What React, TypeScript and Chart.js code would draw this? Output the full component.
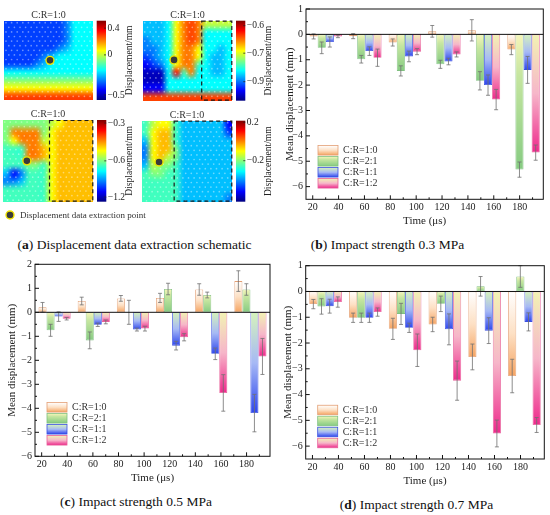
import React, { useEffect, useRef } from 'react';
import { Chart, registerables } from 'chart.js';

// Register all Chart.js components
Chart.register(...registerables);

const FONT = "'Liberation Serif', 'Times New Roman', serif";
Chart.defaults.font.family = FONT;
Chart.defaults.color = '#222';

// ---------- bar panels (b), (c), (d) ----------
const SERIES = ['C:R=1:0', 'C:R=2:1', 'C:R=1:1', 'C:R=1:2'];
const GROUPS = ['20-40', '50-70', '80-100', '110-130', '140-160', '170-190'];
const TIME_TICKS = [20, 40, 60, 80, 100, 120, 140, 160, 180];
const TIME_MIN = 14.8;
const TIME_MAX = 198.3;

// (b) 0.3 MPa
const B_10 = [-0.08, -0.07, -0.32, 0.12, 0.16, -0.6];
const B_21 = [-0.53, -0.98, -1.44, -1.18, -1.83, -5.33];
const B_11 = [-0.3, -0.66, -0.87, -1.07, -2.0, -1.4];
const B_12 = [-0.08, -0.92, -0.68, -0.79, -2.57, -4.66];
const B_10_ERR = [0.1, 0.1, 0.14, 0.23, 0.42, 0.2];
const B_21_ERR = [0.23, 0.15, 0.2, 0.16, 0.36, 0.3];
const B_11_ERR = [0.2, 0.17, 0.21, 0.13, 0.4, 0.53];
const B_12_ERR = [0.05, 0.34, 0.12, 0.1, 0.4, 0.3];

// (c) 0.5 MPa
const C_10 = [0.21, 0.47, 0.58, 0.6, 0.95, 1.3];
const C_21 = [-0.75, -1.17, 0.0, 0.97, 0.72, 0.95];
const C_11 = [-0.18, -0.52, -0.72, -1.39, -1.73, -4.2];
const C_12 = [-0.27, -0.4, -0.68, -1.04, -3.36, -1.84];
const C_10_ERR = [0.2, 0.16, 0.12, 0.19, 0.24, 0.43];
const C_21_ERR = [0.25, 0.35, 0.5, 0.24, 0.12, 0.24];
const C_11_ERR = [0.2, 0.07, 0.06, 0.18, 0.24, 0.78];
const C_12_ERR = [0.05, 0.08, 0.1, 0.15, 0.76, 0.75];

// (d) 0.7 MPa
const D_10 = [-0.49, -1.02, -1.45, -1.28, -2.54, -3.28];
const D_21 = [-0.58, -1.02, -0.87, -0.48, 0.2, 0.58];
const D_11 = [-0.57, -1.02, -1.41, -1.47, -1.52, -1.18];
const D_12 = [-0.41, -0.8, -2.28, -3.46, -5.51, -5.18];
const D_10_ERR = [0.18, 0.18, 0.41, 0.28, 0.5, 0.65];
const D_21_ERR = [0.3, 0.18, 0.41, 0.3, 0.38, 0.42];
const D_11_ERR = [0.27, 0.18, 0.18, 0.6, 0.5, 0.35];
const D_12_ERR = [0.2, 0.16, 0.63, 0.76, 0.52, 0.29];

const Y_TICKS_B = [1, 0, -1, -2, -3, -4, -5, -6];
const Y_TICKS_C = [2, 1, 0, -1, -2, -3, -4, -5, -6];
const Y_TICKS_D = [1, 0, -1, -2, -3, -4, -5, -6];

// gradient stops (light top -> saturated bottom) per series
const SERIES_FILL = [
  ['#ffffff', '#fde0c4', '#f5a462'],
  ['#f7f5b9', '#c6e6a0', '#86cb82'],
  ['#d6f3bb', '#a6b9f5', '#2e46ee'],
  ['#f2f3b3', '#f6b6c9', '#ee2a8c'],
];
const SERIES_MID = [0.5, 0.3, 0.5, 0.5];
const SERIES_EDGE = ['#e39f74', '#80c080', '#3a50e0', '#e8609a'];

// ---------- heat maps (a) ----------
// colour level per cell, 0 (dark blue) .. g = 16 (dark red) on the jet scale
const LEVEL_MAX = 16;
const MAP1 = [
  '333333334666',
  '333333334666',
  '333333334666',
  '333333345666',
  '333334566666',
  '333345666666',
  '666666666666',
  '888888888888',
  'aaaaaaaaaaaa',
  'dddddddddddd',
];
const MAP2 = [
  '5556acdc9999',
  '5556acdc6666',
  '4556acdc6666',
  '4456acca6656',
  '3456acca6556',
  '2346acc76556',
  '1116e7c66556',
  '111666666666',
  '222666666666',
  'dddddddddddd',
];
const MAP3 = [
  '8888889abbbb',
  '8cccc8abbbbb',
  '8accc9abbbbb',
  '777ccbabbbbb',
  '777ccbabbbbb',
  '777887abbbbb',
  '524777abbbbb',
  '445777abbbbb',
  '777777abbbbb',
  '777777abbbbb',
];
const MAP4 = [
  '79aa75555552',
  '7abb75555553',
  '5abb75555555',
  '4abb85555555',
  '4ab985555555',
  '598875555555',
  '788775555555',
  '777775555555',
  '777775555555',
  '777775555554',
];
const CB1_LEVELS = [14.5, 9.1, 1.0];
const CB1_LABELS = ['0.4', '0', '\u22120.5'];
const CB2_LEVELS = [15.0, 9.5, 3.8];
const CB2_LABELS = ['\u22120.6', '\u22120.7', '\u22120.9'];
const CB3_LEVELS = [15.4, 8.0, 0.9];
const CB3_LABELS = ['\u22120.3', '\u22120.6', '\u22121.2'];
const CB4_LEVELS = [15.7, 8.1];
const CB4_LABELS = ['0.2', '\u22120.2'];
// extraction point [column, row]
const POINT1 = [6.2, 5.0];
const POINT2 = [4.2, 4.9];
const POINT3 = [3.2, 5.0];
const POINT4 = [2.3, 5.1];

const fmt = (v: number) => (v < 0 ? '\u2212' + Math.abs(v) : String(v));

function jet(t: number): [number, number, number] {
  const c = (v: number) => Math.round(255 * Math.max(0, Math.min(1, v)));
  return [c(1.5 - Math.abs(4 * t - 3)), c(1.5 - Math.abs(4 * t - 2)), c(1.5 - Math.abs(4 * t - 1))];
}
const jetCss = (t: number) => {
  const [r, g, b] = jet(t);
  return `rgb(${r},${g},${b})`;
};

function fillGradient(ctx: CanvasRenderingContext2D, i: number, top: number, bottom: number) {
  const g = ctx.createLinearGradient(0, top, 0, bottom);
  g.addColorStop(0, SERIES_FILL[i][0]);
  g.addColorStop(SERIES_MID[i], SERIES_FILL[i][1]);
  g.addColorStop(1, SERIES_FILL[i][2]);
  return g;
}

function HeatPanel({ box, area, levels, cbLevels, cbLabels, point, dashFrom, note }: any) {
  const ref = useRef<HTMLCanvasElement>(null);

  useEffect(() => {
    const canvas = ref.current;
    if (!canvas) return;
    const rows = levels.length;
    const cols = levels[0].length;

    const heat = {
      id: 'heat',
      beforeDatasetsDraw(chart: any) {
        const { ctx, scales } = chart;
        const { x, y, cb } = scales;
        const x0 = x.getPixelForValue(0), x1 = x.getPixelForValue(cols);
        const y0 = y.getPixelForValue(0), y1 = y.getPixelForValue(rows);

        // the grid as a tiny bitmap, smoothed when stretched over the map
        const off = document.createElement('canvas');
        off.width = cols;
        off.height = rows;
        const octx = off.getContext('2d')!;
        const img = octx.createImageData(cols, rows);
        levels.forEach((row: string, r: number) => {
          for (let c = 0; c < cols; c++) {
            const [R, G, B] = jet(parseInt(row[c], 17) / LEVEL_MAX);
            const k = (r * cols + c) * 4;
            img.data[k] = R;
            img.data[k + 1] = G;
            img.data[k + 2] = B;
            img.data[k + 3] = 255;
          }
        });
        octx.putImageData(img, 0, 0);

        ctx.save();
        ctx.imageSmoothingEnabled = true;
        ctx.imageSmoothingQuality = 'high';
        ctx.drawImage(off, x0, y0, x1 - x0, y1 - y0);

        // speckle dots of the sample surface
        ctx.beginPath();
        ctx.rect(x0, y0, x1 - x0, y1 - y0);
        ctx.clip();
        ctx.fillStyle = 'rgba(255,255,255,0.42)';
        for (let j = 0, py = y0 + 2; py < y1; py += 4.6, j++) {
          for (let px = x0 + 2 + (j % 2) * 2.8; px < x1; px += 5.6) {
            ctx.beginPath();
            ctx.arc(px, py, 0.85, 0, Math.PI * 2);
            ctx.fill();
          }
        }
        ctx.restore();

        ctx.save();
        if (dashFrom != null) {
          const xd = x.getPixelForValue(dashFrom);
          ctx.strokeStyle = '#1a1a1a';
          ctx.lineWidth = 1.2;
          ctx.setLineDash([4, 3]);
          ctx.strokeRect(xd, y0 + 0.5, x1 - xd - 0.5, y1 - y0 - 1);
          ctx.setLineDash([]);
        }

        // extraction point
        ctx.beginPath();
        ctx.arc(x.getPixelForValue(point[0]), y.getPixelForValue(point[1]), 4, 0, Math.PI * 2);
        ctx.fillStyle = '#3a3a3a';
        ctx.fill();
        ctx.strokeStyle = '#f2e600';
        ctx.lineWidth = 1.4;
        ctx.stroke();

        // map title
        ctx.fillStyle = '#333';
        ctx.font = `10px ${FONT}`;
        ctx.textAlign = 'center';
        ctx.textBaseline = 'alphabetic';
        ctx.fillText('C:R=1:0', (x0 + x1) / 2, y0 - 3);

        // colour bar
        const cbL = x1 + 3.7, cbW = 9.3;
        const cTop = cb.getPixelForValue(LEVEL_MAX), cBot = cb.getPixelForValue(0);
        const g = ctx.createLinearGradient(0, cBot, 0, cTop);
        for (let k = 0; k <= 16; k++) g.addColorStop(k / 16, jetCss(k / 16));
        ctx.fillStyle = g;
        ctx.fillRect(cbL, cTop, cbW, cBot - cTop);
        ctx.strokeStyle = '#222';
        ctx.lineWidth = 0.8;
        ctx.font = `9.5px ${FONT}`;
        ctx.textAlign = 'left';
        ctx.textBaseline = 'middle';
        ctx.fillStyle = '#222';
        cbLevels.forEach((lv: number, i: number) => {
          const p = cb.getPixelForValue(lv);
          ctx.beginPath();
          ctx.moveTo(cbL + cbW - 2, p);
          ctx.lineTo(cbL + cbW, p);
          ctx.stroke();
          ctx.fillText(cbLabels[i], cbL + cbW + 1.5, p);
        });

        ctx.save();
        ctx.translate(x1 + 36.5, (cTop + cBot) / 2);
        ctx.rotate(-Math.PI / 2);
        ctx.textAlign = 'center';
        ctx.fillText('Displacement/mm', 0, 0);
        ctx.restore();

        if (note) {
          const px = x0 + 7.3, py = y1 + 13.3;
          ctx.beginPath();
          ctx.arc(px, py, 4, 0, Math.PI * 2);
          ctx.fillStyle = '#3a3a3a';
          ctx.fill();
          ctx.strokeStyle = '#f2e600';
          ctx.lineWidth = 1.4;
          ctx.stroke();
          ctx.fillStyle = '#333';
          ctx.font = `9px ${FONT}`;
          ctx.textAlign = 'left';
          ctx.fillText('Displacement data extraction point', px + 10, py + 0.5);
        }
        ctx.restore();
      },
    };

    const chart = new Chart(canvas, {
      type: 'scatter',
      data: { datasets: [] },
      options: {
        animation: false,
        responsive: false,
        events: [],
        layout: {
          padding: {
            left: area.left,
            top: area.top,
            right: box.width - area.right,
            bottom: box.height - area.bottom,
          },
        },
        plugins: { legend: { display: false }, tooltip: { enabled: false } },
        scales: {
          x: { type: 'linear', min: 0, max: cols, display: false },
          y: { type: 'linear', min: 0, max: rows, reverse: true, display: false },
          cb: { type: 'linear', axis: 'y', min: 0, max: LEVEL_MAX, display: false },
        },
      } as any,
      plugins: [heat],
    });

    return () => {
      chart.destroy();
    };
  }, []);

  return (
    <canvas
      ref={ref}
      width={box.width}
      height={box.height}
      style={{ position: 'absolute', left: box.left, top: box.top, width: box.width, height: box.height }}
    />
  );
}

function BarPanel({ box, area, yMin, yMax, yTicks, values, errors, yTitleX }: any) {
  const ref = useRef<HTMLCanvasElement>(null);

  useEffect(() => {
    const canvas = ref.current;
    if (!canvas) return;
    const axisH = box.height - area.bottom;
    const titleLH = 11 * 1.2;

    const extras = {
      id: 'barExtras',
      afterDatasetsDraw(chart: any) {
        const { ctx, chartArea: a, scales } = chart;
        const ys = scales.y, xs = scales.xt;
        const line = (x1: number, y1: number, x2: number, y2: number) => {
          ctx.beginPath();
          ctx.moveTo(x1, y1);
          ctx.lineTo(x2, y2);
          ctx.stroke();
        };
        ctx.save();

        // error bars
        ctx.strokeStyle = '#707070';
        ctx.lineWidth = 0.8;
        chart.data.datasets.forEach((ds: any, i: number) => {
          chart.getDatasetMeta(i).data.forEach((bar: any, j: number) => {
            const v = ds.data[j], e = errors[i][j];
            const pt = ys.getPixelForValue(v + e), pb = ys.getPixelForValue(v - e);
            line(bar.x, pt, bar.x, pb);
            line(bar.x - 2, pt, bar.x + 2, pt);
            line(bar.x - 2, pb, bar.x + 2, pb);
          });
        });

        // frame, zero line and inward ticks
        ctx.strokeStyle = '#111';
        ctx.lineWidth = 1;
        ctx.strokeRect(a.left, a.top, a.right - a.left, a.bottom - a.top);
        const z = ys.getPixelForValue(0);
        line(a.left, z, a.right, z);
        const yv = ys.ticks.map((t: any) => t.value);
        yv.forEach((v: number, k: number) => {
          const p = ys.getPixelForValue(v);
          line(a.left, p, a.left + 4, p);
          if (k < yv.length - 1) {
            const pm = ys.getPixelForValue((v + yv[k + 1]) / 2);
            line(a.left, pm, a.left + 2, pm);
          }
        });
        const xv = xs.ticks.map((t: any) => t.value);
        xv.forEach((v: number, k: number) => {
          const p = xs.getPixelForValue(v);
          line(p, a.bottom, p, a.bottom - 4);
          const next = k < xv.length - 1 ? (v + xv[k + 1]) / 2 : v + (v - xv[k - 1]) / 2;
          if (next < TIME_MAX) {
            const pm = xs.getPixelForValue(next);
            line(pm, a.bottom, pm, a.bottom - 2);
          }
        });

        // legend in the lower left corner
        ctx.font = `10px ${FONT}`;
        ctx.textAlign = 'left';
        ctx.textBaseline = 'middle';
        SERIES.forEach((label, i) => {
          const cy = a.bottom - 49 + i * 11;
          const sx = a.left + 12, sh = 9.5;
          ctx.fillStyle = fillGradient(ctx, i, cy - sh / 2, cy + sh / 2);
          ctx.fillRect(sx, cy - sh / 2, 20, sh);
          ctx.strokeStyle = SERIES_EDGE[i];
          ctx.lineWidth = 0.8;
          ctx.strokeRect(sx, cy - sh / 2, 20, sh);
          ctx.fillStyle = '#333';
          ctx.fillText(label, sx + 25, cy + 0.5);
        });
        ctx.restore();
      },
    };

    const chart = new Chart(canvas, {
      type: 'bar',
      data: {
        labels: GROUPS,
        datasets: SERIES.map((label, i) => ({
          label,
          data: values[i],
          xAxisID: 'x',
          yAxisID: 'y',
          categoryPercentage: 0.82,
          barPercentage: 1,
          borderWidth: 0.8,
          borderSkipped: false,
          borderColor: SERIES_EDGE[i],
          backgroundColor: (c: any) => {
            const ch = c.chart;
            if (c.type !== 'data' || !ch.chartArea || !c.parsed) return SERIES_FILL[i][2];
            const p0 = ch.scales.y.getPixelForValue(0);
            const p1 = ch.scales.y.getPixelForValue(c.parsed.y);
            const top = Math.min(p0, p1), bottom = Math.max(p0, p1);
            if (bottom - top < 0.5) return SERIES_FILL[i][0];
            return fillGradient(ch.ctx, i, top, bottom);
          },
        })),
      },
      options: {
        animation: false,
        responsive: false,
        events: [],
        layout: { padding: { left: 0, top: area.top, right: box.width - area.right, bottom: 0 } },
        plugins: { legend: { display: false }, tooltip: { enabled: false } },
        scales: {
          x: { type: 'category', display: false, offset: true, grid: { offset: true } },
          xt: {
            type: 'linear',
            axis: 'x',
            position: 'bottom',
            min: TIME_MIN,
            max: TIME_MAX,
            offset: false,
            grid: { display: false, drawTicks: false, offset: false },
            border: { display: false },
            afterBuildTicks: (s: any) => {
              s.ticks = TIME_TICKS.map((v) => ({ value: v }));
            },
            ticks: { padding: 2, autoSkip: false, maxRotation: 0, font: { size: 10 }, color: '#222', callback: (v: any) => String(v) },
            title: {
              display: true,
              text: 'Time (\u03bcs)',
              font: { size: 11 },
              color: '#222',
              padding: { top: 0, bottom: axisH - 22 - titleLH / 2 },
            },
            afterFit: (s: any) => {
              s.height = axisH;
            },
          },
          y: {
            type: 'linear',
            min: yMin,
            max: yMax,
            grid: { display: false, drawTicks: false },
            border: { display: false },
            afterBuildTicks: (s: any) => {
              s.ticks = yTicks.map((v: number) => ({ value: v }));
            },
            ticks: { padding: 3, font: { size: 10 }, color: '#222', callback: (v: any) => fmt(Number(v)) },
            title: {
              display: true,
              text: 'Mean displacement (mm)',
              font: { size: 11 },
              color: '#222',
              padding: { top: yTitleX - titleLH / 2, bottom: 0 },
            },
            afterFit: (s: any) => {
              s.width = area.left;
            },
          },
        },
      } as any,
      plugins: [extras],
    });

    return () => {
      chart.destroy();
    };
  }, []);

  return (
    <canvas
      ref={ref}
      width={box.width}
      height={box.height}
      style={{ position: 'absolute', left: box.left, top: box.top, width: box.width, height: box.height }}
    />
  );
}

function Caption({ cx, cy, tag, text }: any) {
  return (
    <div
      style={{
        position: 'absolute',
        left: cx - 150,
        top: cy - 8,
        width: 300,
        textAlign: 'center',
        font: `13.5px ${FONT}`,
        lineHeight: '16px',
        color: '#111',
        whiteSpace: 'nowrap',
      }}
    >
      (<b>{tag}</b>) {text}
    </div>
  );
}

export default function App() {
  return (
    <div style={{ position: 'absolute', left: 0, top: 0, width: 550, height: 515, background: '#fff', overflow: 'hidden' }}>
      <HeatPanel
        box={{ left: 0, top: 5, width: 138, height: 100 }}
        area={{ left: 4, top: 15.7, right: 93, bottom: 95 }}
        levels={MAP1}
        cbLevels={CB1_LEVELS}
        cbLabels={CB1_LABELS}
        point={POINT1}
        dashFrom={null}
      />
      <HeatPanel
        box={{ left: 138, top: 5, width: 137, height: 100 }}
        area={{ left: 4.7, top: 15.7, right: 94.3, bottom: 95.7 }}
        levels={MAP2}
        cbLevels={CB2_LEVELS}
        cbLabels={CB2_LABELS}
        point={POINT2}
        dashFrom={7.9}
      />
      <HeatPanel
        box={{ left: 0, top: 105, width: 275, height: 120 }}
        area={{ left: 2.7, top: 15, right: 93.3, bottom: 96.7 }}
        levels={MAP3}
        cbLevels={CB3_LEVELS}
        cbLabels={CB3_LABELS}
        point={POINT3}
        dashFrom={6.2}
        note
      />
      <HeatPanel
        box={{ left: 138, top: 105, width: 137, height: 100 }}
        area={{ left: 3.7, top: 15.7, right: 94.3, bottom: 96.7 }}
        levels={MAP4}
        cbLevels={CB4_LEVELS}
        cbLabels={CB4_LABELS}
        point={POINT4}
        dashFrom={4.3}
      />
      <BarPanel
        box={{ left: 275, top: 0, width: 275, height: 232 }}
        area={{ left: 31, top: 7.3, right: 268.3, bottom: 199.3 }}
        yMin={-6.5}
        yMax={1}
        yTicks={Y_TICKS_B}
        values={[B_10, B_21, B_11, B_12]}
        errors={[B_10_ERR, B_21_ERR, B_11_ERR, B_12_ERR]}
        yTitleX={15}
      />
      <BarPanel
        box={{ left: 0, top: 255, width: 275, height: 235 }}
        area={{ left: 35, top: 9.3, right: 270, bottom: 201.3 }}
        yMin={-6}
        yMax={2}
        yTicks={Y_TICKS_C}
        values={[C_10, C_21, C_11, C_12]}
        errors={[C_10_ERR, C_21_ERR, C_11_ERR, C_12_ERR]}
        yTitleX={12.3}
      />
      <BarPanel
        box={{ left: 275, top: 255, width: 275, height: 235 }}
        area={{ left: 30.7, top: 10.7, right: 269.3, bottom: 204 }}
        yMin={-6.5}
        yMax={1}
        yTicks={Y_TICKS_D}
        values={[D_10, D_21, D_11, D_12]}
        errors={[D_10_ERR, D_21_ERR, D_11_ERR, D_12_ERR]}
        yTitleX={13.3}
      />
      <Caption cx={134.5} cy={245} tag="a" text="Displacement data extraction schematic" />
      <Caption cx={387.5} cy={245} tag="b" text="Impact strength 0.3 MPa" />
      <Caption cx={136} cy={502} tag="c" text="Impact strength 0.5 MPa" />
      <Caption cx={416.5} cy={505} tag="d" text="Impact strength 0.7 MPa" />
    </div>
  );
}
